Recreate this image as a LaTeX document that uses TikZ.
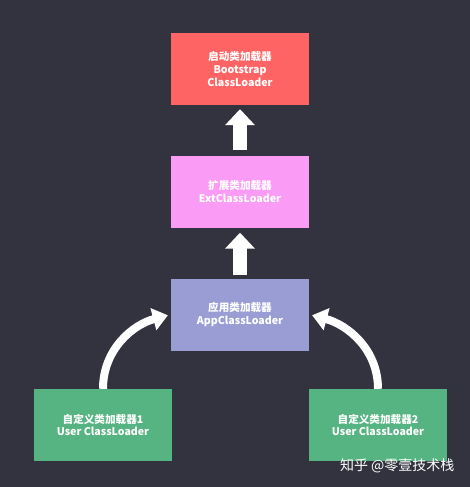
\documentclass[tikz,border=0pt]{standalone}
\usepackage{fontspec}
\setmainfont{Noto Sans CJK SC}
\usetikzlibrary{arrows.meta}
\definecolor{bgdark}{RGB}{50,51,62}
\definecolor{bootred}{RGB}{255,100,100}
\definecolor{extpink}{RGB}{250,155,245}
\definecolor{appblue}{RGB}{154,157,211}
\definecolor{usergreen}{RGB}{86,180,130}

\begin{document}
\begin{tikzpicture}[x=1pt,y=-1pt,
    loader/.style={fill=#1, minimum width=138pt, minimum height=72pt, inner sep=0pt,
        align=center, text=white, font=\bfseries\fontsize{10.6}{12.8}\selectfont},
    up arrow/.style={white, line width=14pt, -{Triangle[length=16pt,width=29pt]}},
    bend arrow/.style={white, line width=8pt, -{Triangle[length=15pt,width=22pt]}}]
    % Фон
    \fill[bgdark] (0,0) rectangle (470,487);
    \useasboundingbox (0,0) rectangle (470,487);

    % Загрузчики
    \node[loader=bootred] (boot) at (240,69) {启动类加载器\\Bootstrap\\ClassLoader};
    \node[loader=extpink] (ext) at (240,191.5) {扩展类加载器\\ExtClassLoader};
    \node[loader=appblue] (app) at (240,314.5) {应用类加载器\\AppClassLoader};
    \node[loader=usergreen] (user1) at (103,425) {自定义类加载器1\\User ClassLoader};
    \node[loader=usergreen] (user2) at (378,425) {自定义类加载器2\\User ClassLoader};

    % Стрелки вверх
    \draw[up arrow, shorten <=5pt, shorten >=4pt] (ext) -- (boot);
    \draw[up arrow, shorten <=3pt, shorten >=5pt] (app) -- (ext);

    % Дуги
    \draw[bend arrow, shorten >=3pt] (user1.north) to[out=90, in=195] (app.west);
    \draw[bend arrow, shorten >=3pt] (user2.north) to[out=90, in=-15] (app.east);

    % Подпись
    \node[anchor=east, text=white, font=\fontsize{14}{14}\selectfont] (mark) at (458,466) {知乎 @零壹技术栈};
\end{tikzpicture}
\end{document}
